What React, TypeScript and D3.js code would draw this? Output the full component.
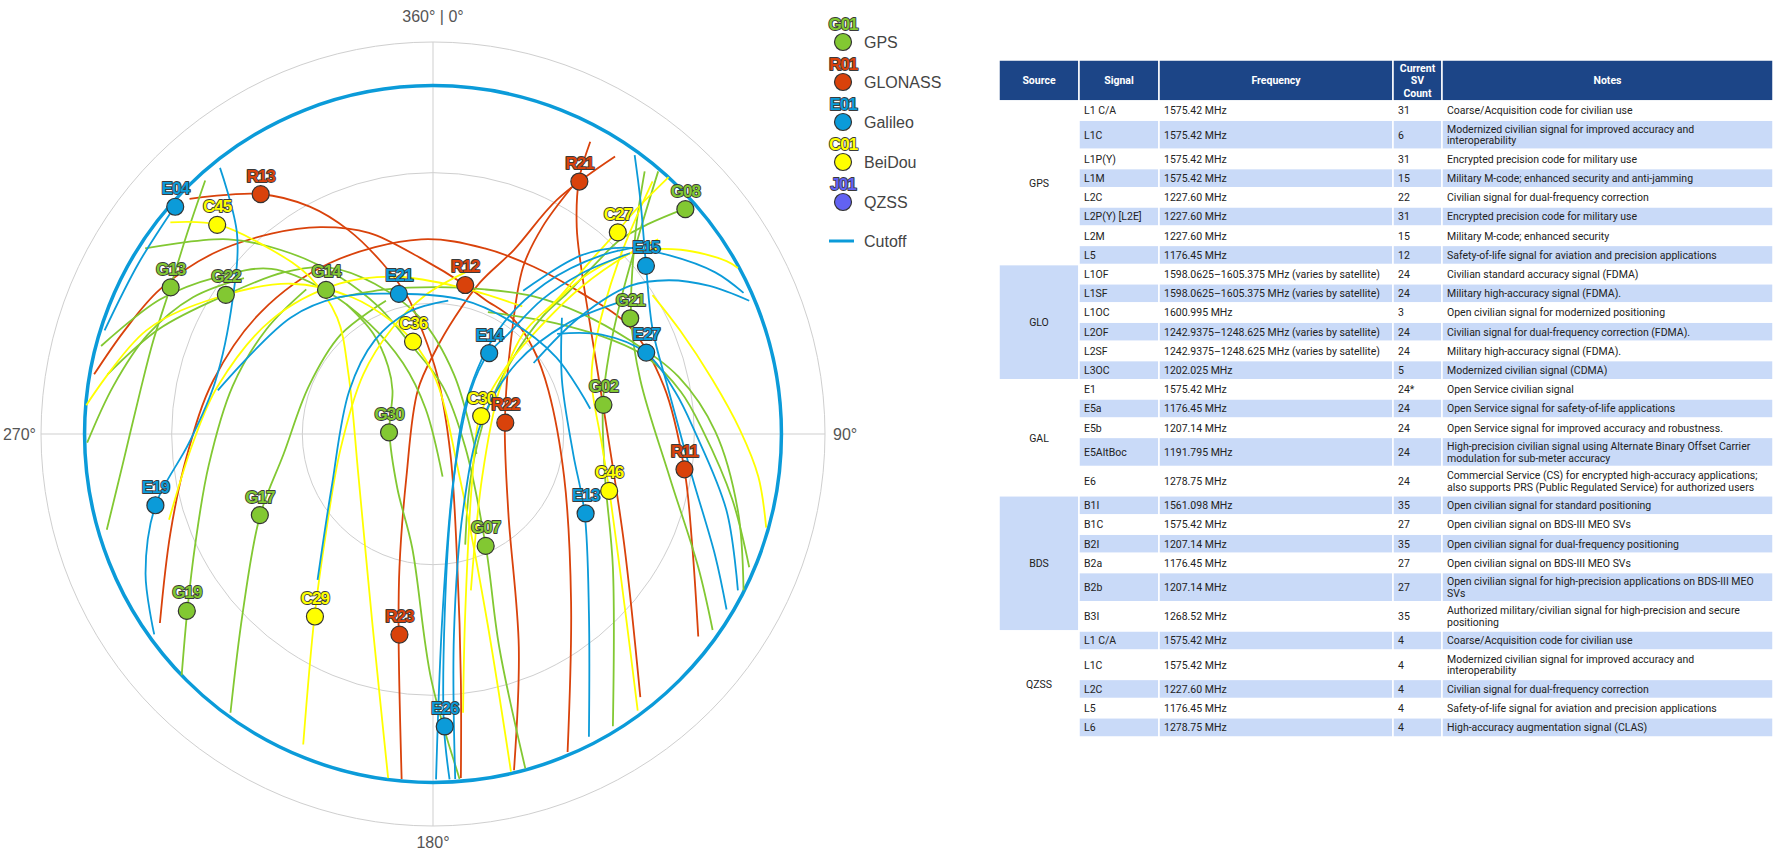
import React from 'react';
import * as d3 from 'd3';

// ---- constellations / legend ----
const SYSTEMS = [
  { key: 'G', name: 'GPS', sample: 'G01', color: '#82c832' },
  { key: 'R', name: 'GLONASS', sample: 'R01', color: '#d9420b' },
  { key: 'E', name: 'Galileo', sample: 'E01', color: '#0b9bd9' },
  { key: 'C', name: 'BeiDou', sample: 'C01', color: '#ffff00' },
  { key: 'J', name: 'QZSS', sample: 'J01', color: '#6262f2' },
];
const CUTOFF_COLOR = '#0b9bd9';
const CUTOFF_EL = 10;

// ---- sky plot grid ----
const ELEV_RINGS = [0, 30, 60];
const AZ_LINES = [0, 90, 180, 270];
const AZ_LABELS = [
  { az: 0, text: '360° | 0°' },
  { az: 90, text: '90°' },
  { az: 180, text: '180°' },
  { az: 270, text: '270°' },
];

// current satellite positions: [id, azimuth deg, elevation deg]
const SATS: [string, number, number][] = [
  ['E04', 311.4, 11.1],
  ['R13', 324.3, 22.2],
  ['C45', 314.1, 21.0],
  ['G13', 299.2, 21.0],
  ['G22', 303.9, 32.7],
  ['G14', 323.4, 48.8],
  ['E21', 346.3, 56.9],
  ['R12', 12.2, 55.0],
  ['C36', 347.8, 68.3],
  ['E14', 34.8, 67.4],
  ['R21', 30.1, 23.0],
  ['G08', 48.3, 12.4],
  ['C27', 42.5, 27.2],
  ['E15', 51.7, 27.7],
  ['G21', 59.6, 37.5],
  ['E27', 69.1, 37.6],
  ['G02', 80.3, 50.3],
  ['G30', 272.2, 79.9],
  ['C30', 69.6, 78.2],
  ['R22', 81.1, 73.2],
  ['R11', 98.0, 31.7],
  ['C46', 107.9, 47.5],
  ['E13', 117.5, 50.5],
  ['E19', 255.6, 24.2],
  ['G17', 244.9, 46.1],
  ['G07', 154.8, 61.6],
  ['G19', 234.3, 20.4],
  ['C29', 212.9, 40.1],
  ['R23', 189.5, 43.3],
  ['E26', 177.7, 22.8],
];

// ground tracks in sky-plane coordinates [east, north] (degrees of zenith distance)
const TRACKS: { id: string; pts: [number, number][] }[] = [
  { id: 'R12', pts: [[-77.8, 13.7], [-70.8, 23.8], [-62.7, 33.2], [-50.4, 41.5], [-37.1, 46.0], [-25.9, 47.5], [-14.7, 46.2], [-2.5, 40.2], [7.4, 34.2], [11.9, 30.9], [18.6, 26.2], [23.1, 19.4], [26.5, 10.0], [30.1, -9.8], [31.7, -38.5], [30.9, -73.0]] },
  { id: 'R11', pts: [[-62.7, -43.4], [-60.3, -22.8], [-56.4, -4.6], [-50.4, 12.4], [-39.5, 28.0], [-23.8, 39.2], [-2.7, 44.7], [11.9, 42.6], [23.1, 38.4], [34.0, 32.4], [45.2, 24.6], [53.0, 11.0], [57.7, -8.0], [59.5, -25.4], [60.9, -46.5]] },
  { id: 'R13', pts: [[-55.9, 54.0], [-39.7, 55.1], [-28.3, 52.2], [-19.4, 46.8], [-11.6, 39.2], [-5.9, 31.6], [-2.5, 23.8], [0.9, 13.7], [4.0, -4.6], [5.6, -30.6], [6.4, -56.7], [6.4, -79.0]] },
  { id: 'R21', pts: [[36.1, 67.1], [33.5, 58.2], [33.0, 47.5], [34.0, 38.4], [36.4, 23.0], [40.0, 0.6], [43.9, -25.4], [47.6, -60.4]] },
  { id: 'R22', pts: [[31.9, 56.7], [25.1, 47.5], [20.7, 38.4], [17.9, 21.5], [16.5, 2.7], [17.3, -18.1], [19.7, -48.9], [18.6, -77.2]] },
  { id: 'R23', pts: [[41.8, 63.7], [28.5, 53.8], [18.6, 42.3], [10.8, 34.8], [5.1, 26.9], [0.7, 19.4], [-3.5, 10.0], [-6.1, -9.8], [-7.7, -30.6], [-7.9, -46.0], [-7.2, -79.2]] },

  { id: 'G13', pts: [[-52.3, 58.2], [-56.4, 46.2], [-60.3, 33.7], [-64.2, 21.5], [-67.1, 10.3], [-71.3, -7.2], [-74.9, -22.0]] },
  { id: 'G22', pts: [[-74.7, 13.7], [-62.9, 24.1], [-47.6, 31.9], [-34.3, 37.1], [-23.8, 38.2], [-13.4, 34.5], [-3.0, 26.7], [4.8, 13.7], [10.0, -4.6]] },
  { id: 'G14', pts: [[-76.2, 20.2], [-62.7, 30.9], [-49.4, 36.1], [-37.1, 37.9], [-24.6, 32.9], [-14.7, 25.4], [-6.9, 16.3], [-1.7, 5.8], [2.2, -9.8]] },
  { id: 'G07', pts: [[-66.1, 42.6], [-47.0, 44.7], [-32.7, 41.5], [-21.5, 36.1], [-12.6, 29.3], [-4.8, 20.2], [2.2, 11.0], [7.4, -3.0], [12.1, -25.7], [15.2, -48.9], [21.2, -76.8]] },
  { id: 'G30', pts: [[-19.9, 29.8], [-13.7, 23.0], [-10.3, 15.5], [-9.3, 10.0], [-10.0, 0.6], [-8.2, -12.4], [-4.8, -26.0], [-0.4, -56.4], [6.1, -79.2]] },
  { id: 'G08', pts: [[57.7, 51.7], [49.6, 48.3], [43.1, 44.7], [37.4, 39.2], [30.9, 32.4], [25.1, 26.9], [18.6, 17.8], [12.6, 5.8], [8.7, -9.8], [7.4, -25.4]] },
  { id: 'G21', pts: [[48.6, 60.3], [46.5, 46.2], [45.5, 26.4], [47.6, 12.4], [54.3, -9.8], [60.9, -30.6], [64.2, -45.0]] },
  { id: 'G02', pts: [[51.7, 60.3], [47.8, 47.5], [43.4, 31.9], [40.5, 18.9], [39.0, 6.9], [39.5, -9.8], [41.3, -30.6], [41.3, -67.1]] },
  { id: 'G17', pts: [[-46.5, -64.0], [-43.7, -41.1], [-39.7, -18.7], [-34.3, -4.6], [-28.5, 11.0], [-21.2, 22.8], [-10.8, 30.6]] },
  { id: 'G19', pts: [[-57.7, -55.4], [-56.4, -40.5], [-54.6, -25.4], [-51.5, -7.2], [-46.0, 11.0], [-38.2, 24.1], [-29.1, 33.2]] },
  { id: 'G-a', pts: [[12.6, 28.0], [28.3, 25.4], [41.3, 21.5], [49.1, 17.6], [56.9, 9.7], [61.9, 0.9], [68.7, -15.0], [72.6, -30.6]] },
  { id: 'G-b', pts: [[-21.2, 31.4], [-10.8, 33.2], [0.7, 33.7], [11.9, 33.2], [23.1, 31.6], [34.0, 27.7], [45.2, 21.5], [56.4, 13.1], [64.8, 0.6], [70.0, -17.6], [71.3, -35.9]] },
  { id: 'G-c', pts: [[-79.4, -2.0], [-73.4, 11.0], [-65.5, 22.8], [-55.1, 31.4], [-43.4, 35.8]] },

  { id: 'C45', pts: [[-60.3, 48.6], [-49.6, 48.1], [-37.1, 42.3], [-28.3, 36.1], [-22.0, 26.7], [-19.4, 13.7], [-17.1, -9.8], [-13.9, -43.7], [-10.3, -79.0]] },
  { id: 'C29', pts: [[-29.8, -71.3], [-27.2, -41.9], [-24.6, -22.8], [-21.2, -3.3], [-16.0, 13.7], [-9.5, 24.1], [-1.7, 31.9], [7.4, 37.1]] },
  { id: 'C36', pts: [[-79.6, 6.6], [-65.8, 23.8], [-49.4, 31.4], [-32.7, 34.5], [-18.6, 31.4], [-9.5, 25.9], [-4.8, 21.5], [0.7, 12.4], [6.1, -9.8], [12.1, -41.1], [17.9, -77.5]] },
  { id: 'C27', pts: [[54.1, 59.0], [46.5, 51.4], [42.3, 46.5], [36.4, 40.0], [28.5, 30.9], [20.7, 23.0], [15.2, 10.0], [11.3, -9.8], [8.7, -35.9]] },
  { id: 'C30', pts: [[51.7, 44.7], [45.2, 41.5], [34.0, 33.7], [23.1, 23.0], [16.5, 15.0], [10.8, 4.3], [9.0, -10.6], [7.4, -41.1], [6.9, -64.0]] },
  { id: 'C46', pts: [[50.4, 58.0], [42.6, 39.7], [37.4, 21.5], [36.4, 12.4], [38.7, -2.0], [40.5, -13.2], [44.2, -41.1], [47.0, -63.5]] },
  { id: 'C-a', pts: [[25.7, 28.0], [36.1, 37.1], [46.5, 41.8], [56.9, 42.3], [67.4, 39.7], [70.0, 38.1]] },
  { id: 'C-b', pts: [[50.4, 31.9], [56.7, 23.8], [64.2, 12.4], [70.5, 0.9], [74.7, -9.8], [76.5, -21.5]] },
  { id: 'C-c', pts: [[-60.6, -19.7], [-55.1, -2.0], [-49.4, 11.0], [-37.1, 26.2], [-21.5, 34.5], [-8.2, 36.1], [6.1, 33.7], [20.5, 29.3]] },

  { id: 'E04', pts: [[-59.3, 52.2], [-67.6, 39.2], [-75.4, 23.8]] },
  { id: 'E19', pts: [[-48.9, 61.1], [-45.0, 46.0], [-46.0, 30.9], [-50.0, 12.0], [-56.0, -2.0], [-63.7, -16.3], [-66.0, -32.0], [-64.0, -46.0]] },
  { id: 'E21', pts: [[-49.4, 10.0], [-32.7, 26.7], [-21.5, 31.4], [-8.2, 32.2], [6.4, 30.9], [17.3, 26.2], [28.3, 17.6], [36.1, 5.8]] },
  { id: 'E14', pts: [[45.2, 41.5], [34.0, 36.8], [25.1, 30.9], [17.3, 23.0], [12.6, 18.3], [8.7, 10.0], [4.8, -9.8], [2.2, -41.1], [0.7, -79.3]] },
  { id: 'E26', pts: [[3.8, -79.3], [2.5, -66.9], [2.7, -41.1], [4.3, -15.0], [7.9, 8.4], [15.2, 24.1], [25.7, 34.5], [38.7, 41.0], [51.3, 43.6]] },
  { id: 'E15', pts: [[46.3, 64.0], [47.6, 53.8], [48.9, 38.9], [50.4, 24.1], [54.1, 10.0], [59.5, -9.8], [64.8, -28.0], [67.4, -40.3]] },
  { id: 'E27', pts: [[28.5, 23.0], [38.7, 22.8], [48.9, 18.6], [55.6, 9.7], [60.1, 0.6], [67.4, -17.6], [70.0, -35.9]] },
  { id: 'E13', pts: [[29.6, 26.7], [29.6, 12.4], [32.2, -4.6], [34.8, -18.1], [35.8, -41.1], [35.8, -69.5]] },
  { id: 'E-a', pts: [[20.7, 32.9], [34.0, 41.0], [43.9, 42.8], [54.3, 41.0], [64.8, 37.1], [71.3, 32.4]] },
  { id: 'E-b', pts: [[23.1, 16.3], [33.5, 26.7], [45.2, 34.0], [54.1, 35.3], [63.5, 34.0], [72.6, 30.6]] },
  { id: 'E-c', pts: [[-26.5, -33.5], [-23.3, -12.4], [-19.2, 10.0], [-13.4, 21.5], [-5.6, 28.0], [3.5, 30.6]] },
  { id: 'E-d', pts: [[5.1, -79.2], [4.8, -46.3], [6.9, -17.6], [11.3, 3.2], [19.2, 16.3], [30.9, 25.4], [43.9, 30.6]] },
];

// ---- signal table ----
const TABLE_HEADERS = ['Source', 'Signal', 'Frequency', 'Current\nSV\nCount', 'Notes'];
const SOURCES = ['GPS', 'GLO', 'GAL', 'BDS', 'QZSS'];
const SIGNALS: [string, string, string, string, string[]][] = [
  ['GPS', 'L1 C/A', '1575.42 MHz', '31', ['Coarse/Acquisition code for civilian use']],
  ['GPS', 'L1C', '1575.42 MHz', '6', ['Modernized civilian signal for improved accuracy and', 'interoperability']],
  ['GPS', 'L1P(Y)', '1575.42 MHz', '31', ['Encrypted precision code for military use']],
  ['GPS', 'L1M', '1575.42 MHz', '15', ['Military M-code; enhanced security and anti-jamming']],
  ['GPS', 'L2C', '1227.60 MHz', '22', ['Civilian signal for dual-frequency correction']],
  ['GPS', 'L2P(Y) [L2E]', '1227.60 MHz', '31', ['Encrypted precision code for military use']],
  ['GPS', 'L2M', '1227.60 MHz', '15', ['Military M-code; enhanced security']],
  ['GPS', 'L5', '1176.45 MHz', '12', ['Safety-of-life signal for aviation and precision applications']],
  ['GLO', 'L1OF', '1598.0625–1605.375 MHz (varies by satellite)', '24', ['Civilian standard accuracy signal (FDMA)']],
  ['GLO', 'L1SF', '1598.0625–1605.375 MHz (varies by satellite)', '24', ['Military high-accuracy signal (FDMA).']],
  ['GLO', 'L1OC', '1600.995 MHz', '3', ['Open civilian signal for modernized positioning']],
  ['GLO', 'L2OF', '1242.9375–1248.625 MHz (varies by satellite)', '24', ['Civilian signal for dual-frequency correction (FDMA).']],
  ['GLO', 'L2SF', '1242.9375–1248.625 MHz (varies by satellite)', '24', ['Military high-accuracy signal (FDMA).']],
  ['GLO', 'L3OC', '1202.025 MHz', '5', ['Modernized civilian signal (CDMA)']],
  ['GAL', 'E1', '1575.42 MHz', '24*', ['Open Service civilian signal']],
  ['GAL', 'E5a', '1176.45 MHz', '24', ['Open Service signal for safety-of-life applications']],
  ['GAL', 'E5b', '1207.14 MHz', '24', ['Open Service signal for improved accuracy and robustness.']],
  ['GAL', 'E5AltBoc', '1191.795 MHz', '24', ['High-precision civilian signal using Alternate Binary Offset Carrier', 'modulation for sub-meter accuracy']],
  ['GAL', 'E6', '1278.75 MHz', '24', ['Commercial Service (CS) for encrypted high-accuracy applications;', 'also supports PRS (Public Regulated Service) for authorized users']],
  ['BDS', 'B1I', '1561.098 MHz', '35', ['Open civilian signal for standard positioning']],
  ['BDS', 'B1C', '1575.42 MHz', '27', ['Open civilian signal on BDS-III MEO SVs']],
  ['BDS', 'B2I', '1207.14 MHz', '35', ['Open civilian signal for dual-frequency positioning']],
  ['BDS', 'B2a', '1176.45 MHz', '27', ['Open civilian signal on BDS-III MEO SVs']],
  ['BDS', 'B2b', '1207.14 MHz', '27', ['Open civilian signal for high-precision applications on BDS-III MEO', 'SVs']],
  ['BDS', 'B3I', '1268.52 MHz', '35', ['Authorized military/civilian signal for high-precision and secure', 'positioning']],
  ['QZSS', 'L1 C/A', '1575.42 MHz', '4', ['Coarse/Acquisition code for civilian use']],
  ['QZSS', 'L1C', '1575.42 MHz', '4', ['Modernized civilian signal for improved accuracy and', 'interoperability']],
  ['QZSS', 'L2C', '1227.60 MHz', '4', ['Civilian signal for dual-frequency correction']],
  ['QZSS', 'L5', '1176.45 MHz', '4', ['Safety-of-life signal for aviation and precision applications']],
  ['QZSS', 'L6', '1278.75 MHz', '4', ['High-accuracy augmentation signal (CLAS)']],
];

// layout
const W = 1780, H = 858;
const CX = 433, CY = 434, R = 392;
const COLS = [999, 1079, 1159, 1393, 1442, 1773];
const TABLE_TOP = 60, HEADER_H = 41, ROW_H = 19.2, ROW2_H = 29.2;
const HEAD_BG = '#1c4587', ALT_BG = '#c9daf8';
const TXT_FONT = 'Roboto, "Liberation Sans", sans-serif';
const LABEL_FONT = '"Liberation Sans", Arial, sans-serif';

const colorOf = (id: string) => SYSTEMS.find((s) => s.key === id[0])!.color;

const rScale = d3.scaleLinear().domain([90, 0]).range([0, R]);
const xScale = d3.scaleLinear().domain([-90, 90]).range([CX - R, CX + R]);
const yScale = d3.scaleLinear().domain([-90, 90]).range([CY + R, CY - R]);
const toXY = (az: number, el: number): [number, number] => {
  const a = (az * Math.PI) / 180;
  const r = rScale(el);
  return [CX + r * Math.sin(a), CY - r * Math.cos(a)];
};
const trackLine = d3
  .line<[number, number]>()
  .x((d) => xScale(d[0]))
  .y((d) => yScale(d[1]))
  .curve(d3.curveCatmullRom.alpha(0.5));

const SatLabel = ({ x, y, text, color }: { x: number; y: number; text: string; color: string }) => (
  <text
    x={x}
    y={y}
    textAnchor="middle"
    fontFamily={LABEL_FONT}
    fontSize={17}
    fontWeight={700}
    letterSpacing={-1}
    fill={color}
    stroke="#3a3a3a"
    strokeWidth={1.8}
    strokeLinejoin="round"
    style={{ paintOrder: 'stroke' }}
  >
    {text}
  </text>
);

const SkyPlot = () => {
  const outer = rScale(0);
  return (
    <g>
      {ELEV_RINGS.map((el) => (
        <circle key={el} cx={CX} cy={CY} r={rScale(el)} fill="none" stroke="#cfcfcf" strokeWidth={1} />
      ))}
      {AZ_LINES.map((az) => {
        const [x, y] = toXY(az, 0);
        return <line key={az} x1={CX} y1={CY} x2={x} y2={y} stroke="#cfcfcf" strokeWidth={1} />;
      })}
      {AZ_LABELS.map((l) => {
        const props: any = { fontFamily: LABEL_FONT, fontSize: 16, fill: '#555' };
        if (l.az === 0) return <text key={l.az} x={CX} y={CY - outer - 20} textAnchor="middle" {...props}>{l.text}</text>;
        if (l.az === 180) return <text key={l.az} x={CX} y={CY + outer + 22} textAnchor="middle" {...props}>{l.text}</text>;
        if (l.az === 90) return <text key={l.az} x={CX + outer + 8} y={CY + 6} textAnchor="start" {...props}>{l.text}</text>;
        return <text key={l.az} x={CX - outer - 5} y={CY + 6} textAnchor="end" {...props}>{l.text}</text>;
      })}
      <circle cx={CX} cy={CY} r={rScale(CUTOFF_EL)} fill="none" stroke={CUTOFF_COLOR} strokeWidth={3.5} />
      {TRACKS.map((t) => (
        <path key={t.id} d={trackLine(t.pts) || ''} fill="none" stroke={colorOf(t.id)} strokeWidth={1.8} />
      ))}
      {SATS.map(([id, az, el]) => {
        const [x, y] = toXY(az, el);
        return <circle key={id} cx={x} cy={y} r={8.5} fill={colorOf(id)} stroke="#333" strokeWidth={1.2} />;
      })}
      {SATS.map(([id, az, el]) => {
        const [x, y] = toXY(az, el);
        return <SatLabel key={id} x={x} y={y - 12.5} text={id} color={colorOf(id)} />;
      })}
    </g>
  );
};

const Legend = () => {
  const lx = 843, y0 = 42, step = 40;
  return (
    <g>
      {SYSTEMS.map((s, i) => {
        const y = y0 + i * step;
        return (
          <g key={s.key}>
            <SatLabel x={lx} y={y - 12.5} text={s.sample} color={s.color} />
            <circle cx={lx} cy={y} r={8.5} fill={s.color} stroke="#333" strokeWidth={1.2} />
            <text x={lx + 21} y={y + 5.5} fontFamily={LABEL_FONT} fontSize={16} fill="#444">{s.name}</text>
          </g>
        );
      })}
      <line x1={829} x2={854} y1={y0 + 5 * step - 1} y2={y0 + 5 * step - 1} stroke={CUTOFF_COLOR} strokeWidth={3} />
      <text x={lx + 21} y={y0 + 5 * step + 4.5} fontFamily={LABEL_FONT} fontSize={16} fill="#444">Cutoff</text>
    </g>
  );
};

const SignalTable = () => {
  let y = TABLE_TOP + HEADER_H;
  const rows = SIGNALS.map((s, i) => {
    const h = s[4].length > 1 ? ROW2_H : ROW_H;
    const row = { s, i, y, h };
    y += h;
    return row;
  });
  const groups = SOURCES.map((src, gi) => {
    const rs = rows.filter((r) => r.s[0] === src);
    const y0 = rs[0].y;
    const y1 = rs[rs.length - 1].y + rs[rs.length - 1].h;
    return { src, gi, y0, y1 };
  });
  const txt = { fontFamily: TXT_FONT, fontSize: 10.5, fill: '#222' };
  return (
    <g>
      {TABLE_HEADERS.map((hd, c) => {
        const lines = hd.split('\n');
        const mx = (COLS[c] + COLS[c + 1]) / 2;
        const my = TABLE_TOP + HEADER_H / 2;
        return (
          <g key={hd}>
            <rect x={COLS[c]} y={TABLE_TOP} width={COLS[c + 1] - COLS[c]} height={HEADER_H} fill={HEAD_BG} stroke="#fff" strokeWidth={1.5} />
            {lines.map((ln, k) => (
              <text key={k} x={mx} y={my + (k - (lines.length - 1) / 2) * 12.4 + 3.8} textAnchor="middle" fontFamily={TXT_FONT} fontWeight={700} fontSize={10.5} fill="#fff">
                {ln}
              </text>
            ))}
          </g>
        );
      })}
      {groups.map((g) => (
        <g key={g.src}>
          <rect x={COLS[0]} y={g.y0} width={COLS[1] - COLS[0]} height={g.y1 - g.y0} fill={g.gi % 2 ? ALT_BG : '#fff'} stroke="#fff" strokeWidth={1.5} />
          <text x={(COLS[0] + COLS[1]) / 2} y={(g.y0 + g.y1) / 2 + 3.8} textAnchor="middle" {...txt}>{g.src}</text>
        </g>
      ))}
      {rows.map(({ s, i, y: ry, h }) => {
        const fill = i % 2 ? ALT_BG : '#fff';
        const cells = [s[1], s[2], s[3]];
        const my = ry + h / 2;
        return (
          <g key={i}>
            {[1, 2, 3, 4].map((c) => (
              <rect key={c} x={COLS[c]} y={ry} width={COLS[c + 1] - COLS[c]} height={h} fill={fill} stroke="#fff" strokeWidth={1.5} />
            ))}
            {cells.map((v, k) => (
              <text key={k} x={COLS[k + 1] + 5} y={my + 3.8} {...txt}>{v}</text>
            ))}
            {s[4].map((ln, k) => (
              <text key={'n' + k} x={COLS[4] + 5} y={my + (k - (s[4].length - 1) / 2) * 11.6 + 3.8} {...txt}>{ln}</text>
            ))}
          </g>
        );
      })}
    </g>
  );
};

export default function App() {
  return (
    <svg width={W} height={H} style={{ position: 'absolute', left: 0, top: 0, background: '#fff' }}>
      <SkyPlot />
      <Legend />
      <SignalTable />
    </svg>
  );
}
